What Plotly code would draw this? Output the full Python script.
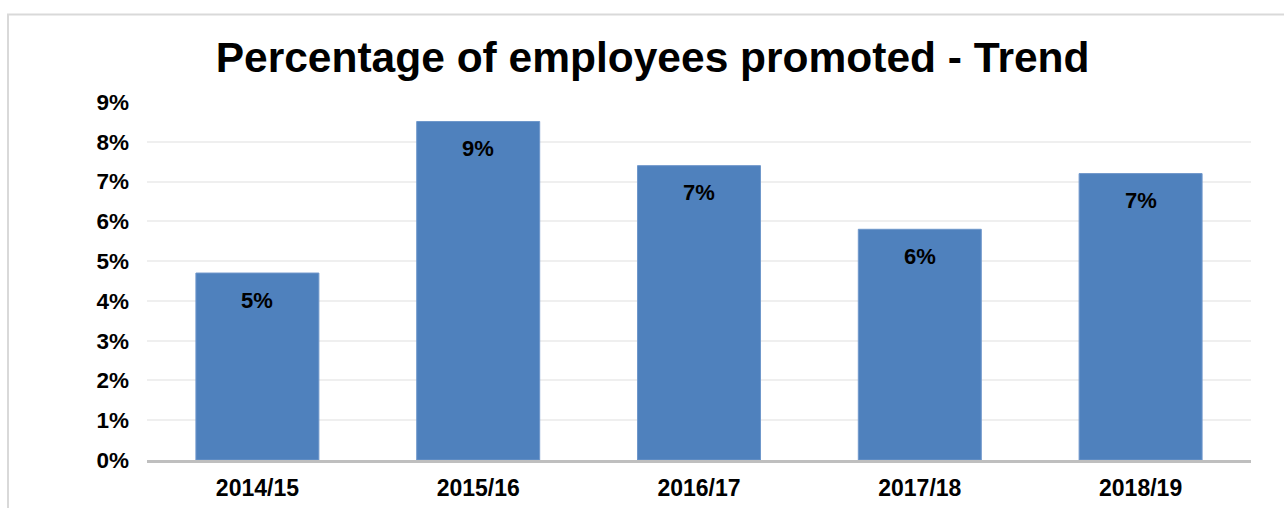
import plotly.graph_objects as go

# Promotion rate per financial year
years = ["2014/15", "2015/16", "2016/17", "2017/18", "2018/19"]
promoted_share = [0.047, 0.0851, 0.074, 0.058, 0.072]

title_text = "Percentage of employees promoted - Trend"
bar_color = "#4F81BD"
font_family = "Liberation Sans, Arial, sans-serif"

fig = go.Figure(
    go.Bar(
        x=years,
        y=promoted_share,
        marker=dict(color=bar_color, line=dict(color="#6F97CB", width=1)),
        hoverinfo="x+y",
    )
)

# value labels placed just inside the top of each bar
for yr, val in zip(years, promoted_share):
    fig.add_annotation(
        x=yr, y=val, xref="x", yref="y",
        text=f"{val:.0%}",
        showarrow=False,
        yanchor="middle",
        yshift=-27,
        font=dict(family=font_family, size=22, color="#000000", weight="bold"),
    )

# light frame around the chart
fig.add_shape(
    type="rect", xref="paper", yref="paper",
    x0=-0.1259, x1=1.3, y0=-0.3, y1=1.2444,
    line=dict(color="#D9D9D9", width=2),
    fillcolor="rgba(0,0,0,0)",
    layer="below",
)

fig.update_layout(
    width=1284,
    height=508,
    margin=dict(l=147, r=33, t=102, b=48, autoexpand=False),
    paper_bgcolor="#FFFFFF",
    plot_bgcolor="#FFFFFF",
    bargap=0.443,
    showlegend=False,
    title=dict(
        text=title_text,
        x=0.458, xref="paper", xanchor="center",
        y=1 - 57 / 508, yref="container", yanchor="middle",
        font=dict(family=font_family, size=42.5, color="#000000", weight="bold"),
    ),
    font=dict(family=font_family, color="#000000"),
)

fig.update_yaxes(
    range=[0, 0.09],
    dtick=0.01,
    tickformat=".0%",
    showgrid=True,
    gridcolor="#EFEFEF",
    gridwidth=1.5,
    zeroline=False,
    showline=False,
    ticks="",
    automargin=False,
    ticklabelstandoff=17,
    tickfont=dict(family=font_family, size=22.5, color="#000000", weight="bold"),
)

fig.update_xaxes(
    showline=True,
    linecolor="#BFBFBF",
    linewidth=3,
    showgrid=False,
    ticks="",
    automargin=False,
    ticklabelstandoff=5,
    tickfont=dict(family=font_family, size=23, color="#000000", weight="bold"),
)

fig.write_html("out.html")
